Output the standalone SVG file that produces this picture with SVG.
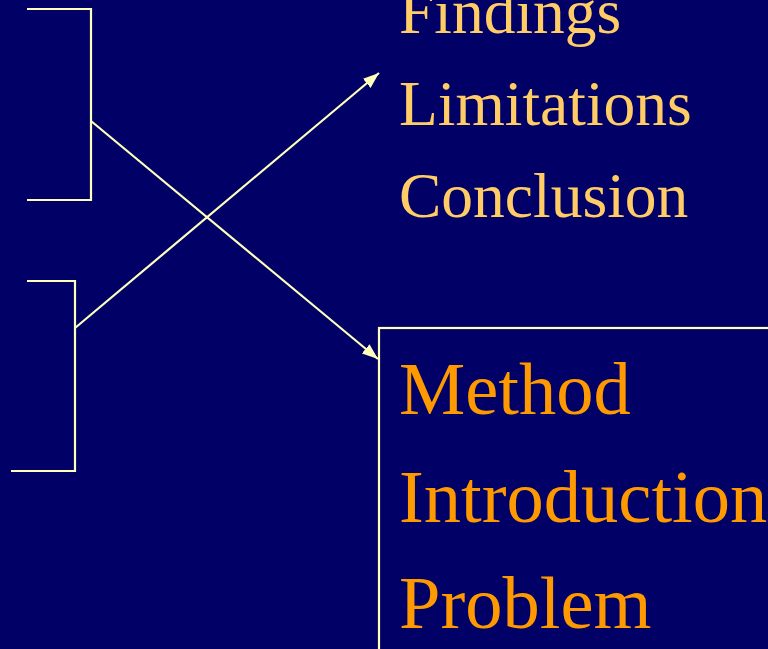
<svg xmlns="http://www.w3.org/2000/svg" width="768" height="649" viewBox="0 0 768 649">
<defs>
<style>
.ln{stroke:#FFFFBB;stroke-width:2.2;fill:none}
.t1{font-family:"Liberation Serif",serif;font-size:63.5px;fill:#FFCC66}
.t2{font-family:"Liberation Serif",serif;font-size:74.5px;fill:#FF9900}
</style>
<marker id="ah2" viewBox="0 0 16 12" refX="16" refY="6" markerWidth="16" markerHeight="12" markerUnits="userSpaceOnUse" orient="auto">
<path d="M0,0 L16,6 L0,12 z" fill="#FFFFBB"/>
</marker>
</defs>
<rect width="768" height="649" fill="#000066"/>
<g id="bracket-top"><polyline class="ln" points="27,9 91,9 91,200 27,200"/></g>
<g id="bracket-bottom"><polyline class="ln" points="27,281 75,281 75,471 11,471"/></g>
<g id="list-top">
<text class="t1" x="399" y="33">Findings</text>
<text class="t1" x="399" y="125">Limitations</text>
<text class="t1" x="399" y="217">Conclusion</text>
</g>
<g id="box-bottom">
<rect class="ln" x="379" y="328" width="400" height="330"/>
<text class="t2" x="399" y="414">Method</text>
<text class="t2" x="399" y="522">Introduction</text>
<text class="t2" x="399" y="628">Problem</text>
</g>
<g id="connectors">
<line class="ln" x1="91" y1="121" x2="378" y2="359" marker-end="url(#ah2)"/>
<line class="ln" x1="75" y1="328" x2="379" y2="73" marker-end="url(#ah2)"/>
</g>
</svg>
